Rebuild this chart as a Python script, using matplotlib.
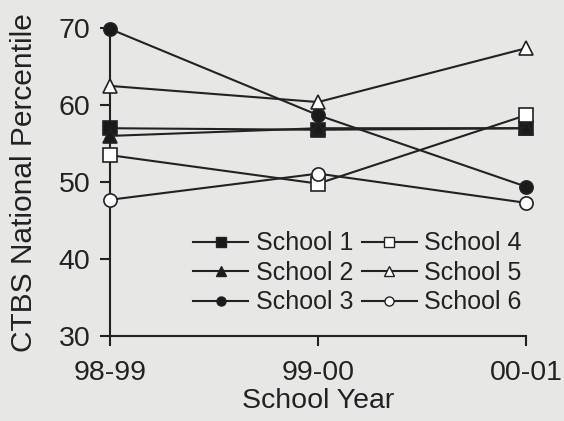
import matplotlib.pyplot as plt

plt.rcParams['font.family'] = ['Liberation Sans', 'DejaVu Sans']

years = ["98-99", "99-00", "00-01"]
school_1 = [57.0, 56.8, 57.0]
school_2 = [56.0, 57.0, 57.0]
school_3 = [69.9, 58.7, 49.4]
school_4 = [53.5, 49.8, 58.7]
school_5 = [62.5, 60.4, 67.4]
school_6 = [47.7, 51.1, 47.3]

series = [
    ("School 1", school_1, "s", "#1a1a1a"),
    ("School 2", school_2, "^", "#1a1a1a"),
    ("School 3", school_3, "o", "#1a1a1a"),
    ("School 4", school_4, "s", "white"),
    ("School 5", school_5, "^", "white"),
    ("School 6", school_6, "o", "white"),
]

bg = "#e7e7e5"
ink = "#222222"

fig = plt.figure(figsize=(5.64, 4.21), dpi=100, facecolor=bg)
ax = fig.add_axes([0.195, 0.202, 0.738, 0.731], facecolor=bg)

x = list(range(len(years)))
handles = []
for name, vals, marker, face in series:
    ax.plot(x, vals, color=ink, lw=1.5, marker=marker, markersize=9.5,
            markerfacecolor=face, markeredgecolor=ink, markeredgewidth=1.2,
            clip_on=False, zorder=3)
    h, = ax.plot([], [], color=ink, lw=1.5, marker=marker, markersize=6.5,
                 markerfacecolor=face, markeredgecolor=ink, markeredgewidth=1.0,
                 label=name)
    handles.append(h)

ax.set_xlim(0, 2)
ax.set_ylim(30, 70)
ax.set_xticks(x)
ax.set_xticklabels(years)
ax.set_yticks([30, 40, 50, 60, 70])

for s in ["top", "right"]:
    ax.spines[s].set_visible(False)
for s in ["left", "bottom"]:
    ax.spines[s].set_color(ink)
    ax.spines[s].set_linewidth(1.5)

ax.tick_params(axis="both", direction="out", length=7, width=1.5, color=ink,
               labelcolor=ink, labelsize=20.5, pad=7)
ax.tick_params(axis="x", pad=10)
ax.set_xlabel("School Year", fontsize=20.5, color=ink, labelpad=2)
ax.set_ylabel("CTBS National Percentile", fontsize=21.5, color=ink, labelpad=15)

ax.legend(handles=handles, ncol=2, loc="upper left", bbox_to_anchor=(0.2, 0.34),
          frameon=False, fontsize=18, handlelength=2.2, handletextpad=0.3,
          columnspacing=0.35, labelspacing=0.22, borderpad=0, borderaxespad=0,
          labelcolor=ink)

fig.savefig("out.png", dpi=100, facecolor=bg)
